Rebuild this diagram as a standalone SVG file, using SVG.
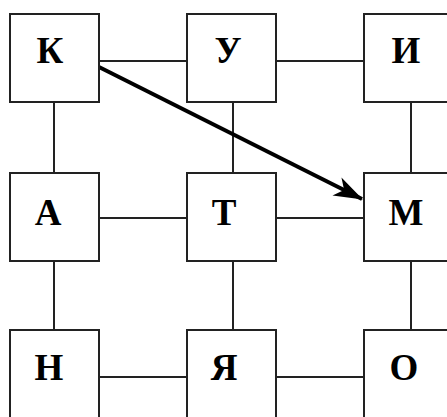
<svg xmlns="http://www.w3.org/2000/svg" width="447" height="417" viewBox="0 0 447 417">
<style>
.box{fill:#fff;stroke:#222;stroke-width:2}
.lbl{font-family:"Liberation Serif","Times New Roman",serif;font-weight:bold;font-size:37px;fill:#000;text-anchor:middle}
.ln{stroke:#222;stroke-width:2;fill:none}
.arr{stroke:#000;stroke-width:4;fill:none}
</style>
<defs>
<marker id="ah" markerUnits="userSpaceOnUse" viewBox="-30 -12 32 24" refX="0" refY="0" markerWidth="32" markerHeight="24" orient="auto">
<path d="M1,0 L-28,-10 L-20,0 L-28,10 Z" fill="#000"/>
</marker>
</defs>
<rect width="447" height="417" fill="#fff"/>
<g id="connectors">
<line class="ln" x1="99" y1="61" x2="187" y2="61"/>
<line class="ln" x1="276" y1="61" x2="364" y2="61"/>
<line class="ln" x1="99" y1="218" x2="187" y2="218"/>
<line class="ln" x1="276" y1="218" x2="364" y2="218"/>
<line class="ln" x1="99" y1="377" x2="187" y2="377"/>
<line class="ln" x1="276" y1="377" x2="364" y2="377"/>
<line class="ln" x1="54" y1="102" x2="54" y2="173"/>
<line class="ln" x1="233" y1="102" x2="233" y2="173"/>
<line class="ln" x1="411" y1="102" x2="411" y2="173"/>
<line class="ln" x1="54" y1="261" x2="54" y2="330"/>
<line class="ln" x1="233" y1="261" x2="233" y2="330"/>
<line class="ln" x1="411" y1="261" x2="411" y2="330"/>
<line class="arr" x1="99" y1="67" x2="362" y2="199" marker-end="url(#ah)"/>
</g>
<g id="node-K"><rect class="box" x="10" y="14" width="89" height="88"/><text class="lbl" x="50" y="63">К</text></g>
<g id="node-U"><rect class="box" x="187" y="14" width="89" height="88"/><text class="lbl" x="228" y="63">У</text></g>
<g id="node-I"><rect class="box" x="364" y="14" width="89" height="88"/><text class="lbl" x="406" y="63">И</text></g>
<g id="node-A"><rect class="box" x="10" y="173" width="89" height="88"/><text class="lbl" x="48" y="225">А</text></g>
<g id="node-T"><rect class="box" x="187" y="173" width="89" height="88"/><text class="lbl" x="224" y="225">Т</text></g>
<g id="node-M"><rect class="box" x="364" y="173" width="89" height="88"/><text class="lbl" x="406" y="225">М</text></g>
<g id="node-N"><rect class="box" x="10" y="330" width="89" height="90"/><text class="lbl" x="49" y="380">Н</text></g>
<g id="node-Ya"><rect class="box" x="187" y="330" width="89" height="90"/><text class="lbl" x="224" y="380">Я</text></g>
<g id="node-O"><rect class="box" x="364" y="330" width="89" height="90"/><text class="lbl" x="404" y="380">О</text></g>
</svg>
